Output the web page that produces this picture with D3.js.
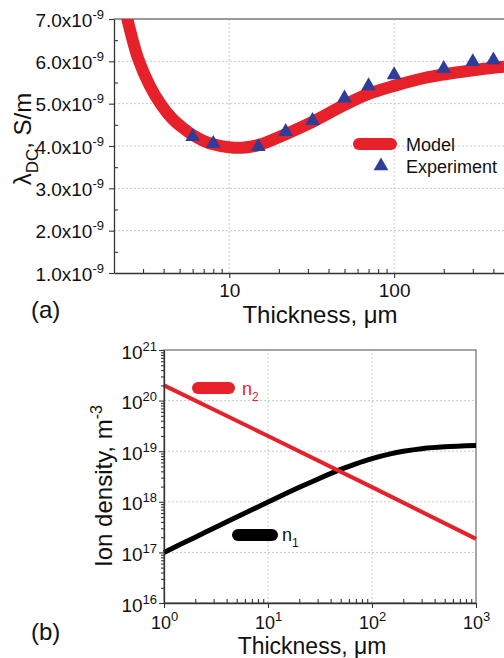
<!DOCTYPE html>
<html><head><meta charset="utf-8">
<script src="https://cdn.jsdelivr.net/npm/d3@7"></script>
<style>
body{margin:0;background:#fff;}
svg{display:block;font-family:"Liberation Sans",Arial,sans-serif;}
</style></head><body>
<svg id="c" width="504" height="658"></svg>
<script>
// ---------- Panel (a) data (conductivity in units of 1e-9 S/m) ----------
const expThickness = [6, 8, 15, 22, 32, 50, 70, 100, 200, 300, 400];
const expLambda    = [4.22, 4.06, 3.98, 4.34, 4.60, 5.13, 5.42, 5.68, 5.83, 5.99, 6.03];
const modelThickness = [2.2, 2.41, 2.81, 3.3, 3.82, 4.5, 5.3, 6, 7, 8, 10, 12, 15, 22, 32, 50, 70, 100, 150, 200, 300, 400, 600, 1000];
const modelLambda    = [7.75, 7.0, 6.05, 5.42, 5.0, 4.65, 4.41, 4.26, 4.12, 4.04, 3.97, 3.96, 4.02, 4.28, 4.57, 4.97, 5.23, 5.42, 5.60, 5.69, 5.79, 5.85, 5.91, 5.97];
const yTicksA = [1, 2, 3, 4, 5, 6, 7];
const yTickLabelsA = ["1.0x10", "2.0x10", "3.0x10", "4.0x10", "5.0x10", "6.0x10", "7.0x10"];
const xTicksA = [10, 100];
const xTickLabelsA = ["10", "100"];

// ---------- Panel (b) data ----------
const n1Thickness = [1, 2, 3, 5, 10, 20, 30, 50, 70, 100, 150, 200, 300, 500, 1000];
const n1Density   = [1e17, 2e17, 2.99e17, 4.98e17, 9.86e17, 1.93e18, 2.8e18, 4.36e18, 5.64e18, 7.16e18, 8.87e18, 9.95e18, 1.12e19, 1.22e19, 1.29e19];
const n2Thickness = [1, 10, 100, 1000];
const n2Density   = [2e20, 2e19, 1.95e18, 1.85e17];
const yTicksB = [1e16, 1e17, 1e18, 1e19, 1e20, 1e21];
const yTickExpB = ["16", "17", "18", "19", "20", "21"];
const xTicksB = [1, 10, 100, 1000];
const xTickExpB = ["0", "1", "2", "3"];

const RED = "#e62129", BLUE = "#2e3d98", AXIS = "#333", BORDER = "#777", GRID = "#c8c8c8";
const svg = d3.select("#c");

function minorLog(lo, hi) {
  const out = [];
  for (let e = Math.floor(Math.log10(lo)); e <= Math.ceil(Math.log10(hi)); e++)
    for (let m = 2; m <= 9; m++) { const v = m * Math.pow(10, e); if (v > lo && v < hi) out.push(v); }
  return out;
}
function styleAxis(g, hideDomain) {
  g.selectAll("path.domain").attr("stroke", AXIS).attr("stroke-width", 1.3).style("display", hideDomain ? "none" : null);
  g.selectAll(".tick line").attr("stroke", AXIS).attr("stroke-width", 1.1);
  g.selectAll(".tick text").remove();
}

// ================= Panel (a) =================
const xA = d3.scaleLog().domain([2, 1000]).range([114, 559]);
const yA = d3.scaleLinear().domain([1, 7]).range([273, 19]);
const gA = svg.append("g");
gA.append("clipPath").attr("id", "clipA").append("rect")
  .attr("x", xA.range()[0]).attr("y", yA.range()[1])
  .attr("width", xA.range()[1] - xA.range()[0]).attr("height", yA.range()[0] - yA.range()[1]);

// grid
gA.selectAll("line.gy").data(yTicksA.slice(1, -1)).join("line")
  .attr("x1", xA.range()[0]).attr("x2", xA.range()[1]).attr("y1", d => yA(d)).attr("y2", d => yA(d))
  .attr("stroke", GRID).attr("stroke-dasharray", "2,2");
gA.selectAll("line.gx").data(xTicksA).join("line")
  .attr("x1", d => xA(d)).attr("x2", d => xA(d)).attr("y1", yA.range()[0]).attr("y2", yA.range()[1])
  .attr("stroke", GRID).attr("stroke-dasharray", "2,2");
// top border
gA.append("line").attr("x1", xA.range()[0]).attr("x2", xA.range()[1]).attr("y1", yA(7)).attr("y2", yA(7))
  .attr("stroke", BORDER).attr("stroke-width", 1.3);

// model line
const lineA = d3.line().x((d, i) => xA(modelThickness[i])).y(d => yA(d)).curve(d3.curveCatmullRom.alpha(0.5));
gA.append("path").datum(modelLambda).attr("d", lineA).attr("fill", "none")
  .attr("stroke", RED).attr("stroke-width", 12).attr("clip-path", "url(#clipA)");
// experiment triangles
gA.selectAll("path.exp").data(expLambda).join("path")
  .attr("d", d3.symbol(d3.symbolTriangle, 95))
  .attr("transform", (d, i) => `translate(${xA(expThickness[i])},${yA(d)})`)
  .attr("fill", BLUE);

// axes
const axA = gA.append("g").attr("transform", `translate(0,${yA.range()[0]})`)
  .call(d3.axisBottom(xA).tickValues(xTicksA).tickSize(5).tickSizeOuter(0));
styleAxis(axA, false);
const axAm = gA.append("g").attr("transform", `translate(0,${yA.range()[0]})`)
  .call(d3.axisBottom(xA).tickValues(minorLog(2, 1000)).tickSize(-4));
styleAxis(axAm, true);
axA.selectAll(".tick").append("text").attr("y", 24).attr("text-anchor", "middle")
  .attr("fill", "#111").attr("font-size", 19).text((d, i) => xTickLabelsA[i]);

const ayA = gA.append("g").attr("transform", `translate(${xA.range()[0]},0)`)
  .call(d3.axisLeft(yA).tickValues(yTicksA).tickSize(5).tickSizeOuter(0));
styleAxis(ayA, false);
const ayAm = gA.append("g").attr("transform", `translate(${xA.range()[0]},0)`)
  .call(d3.axisLeft(yA).tickValues(yTicksA.slice(0, -1).map(v => v + 0.5)).tickSize(-4));
styleAxis(ayAm, true);
ayA.selectAll(".tick").each(function (d, i) {
  const t = d3.select(this).append("text").attr("x", -10).attr("y", 7).attr("text-anchor", "end")
    .attr("fill", "#111").attr("font-size", 19);
  t.append("tspan").text(yTickLabelsA[i]);
  t.append("tspan").attr("font-size", 13).attr("dy", -8).text("-9");
});

// axis titles
const tA = gA.append("text").attr("transform", "translate(31,139) rotate(-90)").attr("text-anchor", "middle")
  .attr("font-size", 24).attr("fill", "#111");
tA.append("tspan").text("λ");
tA.append("tspan").attr("font-size", 17).attr("dy", 7).text("DC");
tA.append("tspan").attr("dy", -7).text(", S/m");
gA.append("text").attr("x", 320).attr("y", 323).attr("text-anchor", "middle").attr("font-size", 24)
  .attr("fill", "#111").text("Thickness, μm");
gA.append("text").attr("x", 31).attr("y", 318).attr("font-size", 24).attr("fill", "#111").text("(a)");

// legend (a)
gA.append("line").attr("x1", 359).attr("x2", 391).attr("y1", 144).attr("y2", 144)
  .attr("stroke", RED).attr("stroke-width", 12).attr("stroke-linecap", "round");
gA.append("text").attr("x", 406).attr("y", 151).attr("font-size", 18).attr("fill", "#111").text("Model");
gA.append("path").attr("d", d3.symbol(d3.symbolTriangle, 95)).attr("transform", "translate(381,166)").attr("fill", BLUE);
gA.append("text").attr("x", 406).attr("y", 173).attr("font-size", 18).attr("fill", "#111").text("Experiment");

// ================= Panel (b) =================
const xB = d3.scaleLog().domain([1, 1000]).range([164, 476]);
const yB = d3.scaleLog().domain([1e16, 1e21]).range([603, 350]);
const gB = svg.append("g");
gB.selectAll("line.gy").data(yTicksB.slice(1, -1)).join("line")
  .attr("x1", xB.range()[0]).attr("x2", xB.range()[1]).attr("y1", d => yB(d)).attr("y2", d => yB(d))
  .attr("stroke", GRID).attr("stroke-dasharray", "2,2");
gB.selectAll("line.gx").data(xTicksB.slice(1, -1)).join("line")
  .attr("x1", d => xB(d)).attr("x2", d => xB(d)).attr("y1", yB.range()[0]).attr("y2", yB.range()[1])
  .attr("stroke", GRID).attr("stroke-dasharray", "2,2");
gB.append("rect").attr("x", xB.range()[0]).attr("y", yB.range()[1])
  .attr("width", xB.range()[1] - xB.range()[0]).attr("height", yB.range()[0] - yB.range()[1])
  .attr("fill", "none").attr("stroke", BORDER).attr("stroke-width", 1.3);

const lineN1 = d3.line().x((d, i) => xB(n1Thickness[i])).y(d => yB(d)).curve(d3.curveCatmullRom.alpha(0.5));
const lineN2 = d3.line().x((d, i) => xB(n2Thickness[i])).y(d => yB(d));
gB.append("path").datum(n1Density).attr("d", lineN1).attr("fill", "none").attr("stroke", "#000").attr("stroke-width", 5);
gB.append("path").datum(n2Density).attr("d", lineN2).attr("fill", "none").attr("stroke", RED).attr("stroke-width", 4);

const axB = gB.append("g").attr("transform", `translate(0,${yB.range()[0]})`)
  .call(d3.axisBottom(xB).tickValues(xTicksB).tickSize(5).tickSizeOuter(0));
styleAxis(axB, false);
const axBm = gB.append("g").attr("transform", `translate(0,${yB.range()[0]})`)
  .call(d3.axisBottom(xB).tickValues(minorLog(1, 1000)).tickSize(-4));
styleAxis(axBm, true);
axB.selectAll(".tick").each(function (d, i) {
  const t = d3.select(this).append("text").attr("y", 25.5).attr("text-anchor", "middle")
    .attr("fill", "#111").attr("font-size", 18);
  t.append("tspan").text("10");
  t.append("tspan").attr("font-size", 13).attr("dy", -8).text(xTickExpB[i]);
});
const ayB = gB.append("g").attr("transform", `translate(${xB.range()[0]},0)`)
  .call(d3.axisLeft(yB).tickValues(yTicksB).tickSize(5).tickSizeOuter(0));
styleAxis(ayB, false);
const ayBm = gB.append("g").attr("transform", `translate(${xB.range()[0]},0)`)
  .call(d3.axisLeft(yB).tickValues(minorLog(1e16, 1e21)).tickSize(3));
styleAxis(ayBm, true);
ayB.selectAll(".tick").each(function (d, i) {
  const t = d3.select(this).append("text").attr("x", -7).attr("y", 8).attr("text-anchor", "end")
    .attr("fill", "#111").attr("font-size", 19);
  t.append("tspan").text("10");
  t.append("tspan").attr("font-size", 13).attr("dy", -8).text(yTickExpB[i]);
});

const tB = gB.append("text").attr("transform", "translate(112,486) rotate(-90)").attr("text-anchor", "middle")
  .attr("font-size", 24).attr("fill", "#111");
tB.append("tspan").text("Ion density, m");
tB.append("tspan").attr("font-size", 16).attr("dy", -10).text("-3");
gB.append("text").attr("x", 312).attr("y", 653.5).attr("text-anchor", "middle").attr("font-size", 23)
  .attr("fill", "#111").text("Thickness, μm");
gB.append("text").attr("x", 31).attr("y", 640).attr("font-size", 24).attr("fill", "#111").text("(b)");

// legend (b)
gB.append("line").attr("x1", 198).attr("x2", 229).attr("y1", 388).attr("y2", 388)
  .attr("stroke", RED).attr("stroke-width", 12).attr("stroke-linecap", "round");
const l2 = gB.append("text").attr("x", 242).attr("y", 395).attr("font-size", 18).attr("fill", RED);
l2.append("tspan").text("n"); l2.append("tspan").attr("font-size", 12).attr("dy", 6).text("2");
gB.append("line").attr("x1", 238).attr("x2", 272).attr("y1", 535).attr("y2", 535)
  .attr("stroke", "#000").attr("stroke-width", 12).attr("stroke-linecap", "round");
const l1 = gB.append("text").attr("x", 282).attr("y", 541).attr("font-size", 18).attr("fill", "#111");
l1.append("tspan").text("n"); l1.append("tspan").attr("font-size", 12).attr("dy", 6).text("1");
</script>
</body></html>
